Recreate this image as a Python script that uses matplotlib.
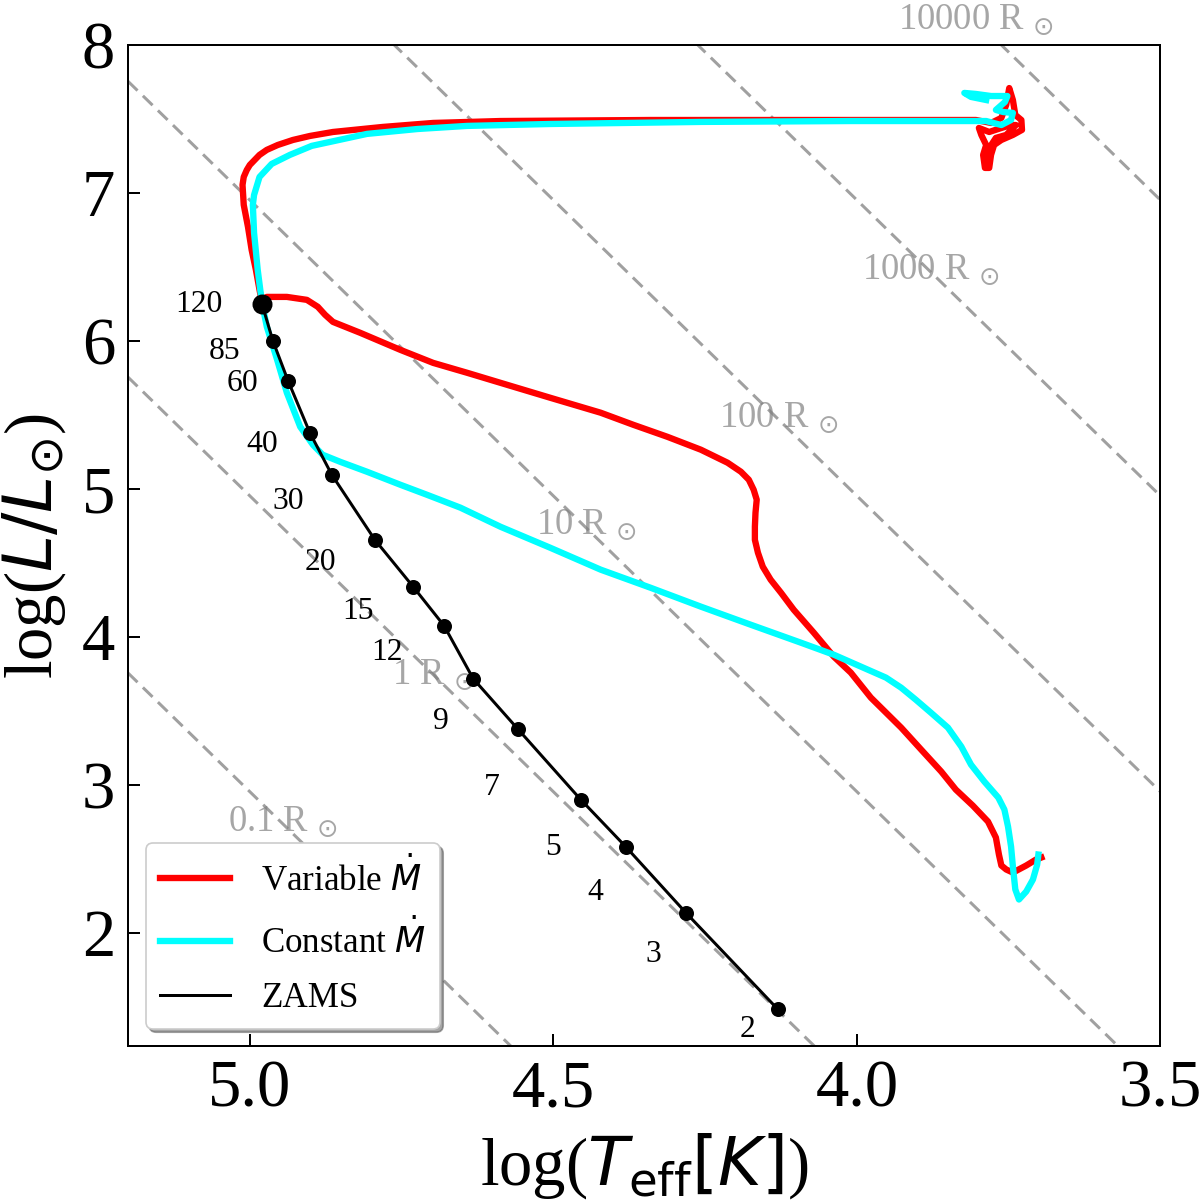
import numpy as np
import matplotlib
matplotlib.use("Agg")
import matplotlib.pyplot as plt

plt.rcParams['font.family'] = ['Liberation Serif', 'DejaVu Sans']
plt.rcParams['mathtext.fontset'] = 'dejavusans'

# ZAMS masses and positions (log Teff, log L)
zams_mass = ['120', '85', '60', '40', '30', '20', '15', '12', '9', '7', '5', '4', '3', '2']
zams_logT = [4.980, 4.962, 4.937, 4.901, 4.865, 4.794, 4.731, 4.680, 4.632, 4.559, 4.455, 4.381, 4.282, 4.130]
zams_logL = [6.250, 6.000, 5.730, 5.378, 5.095, 4.655, 4.338, 4.074, 3.716, 3.378, 2.899, 2.581, 2.135, 1.480]
# where the mass labels sit
mlab_logT = [5.083, 5.041, 5.012, 4.980, 4.937, 4.884, 4.822, 4.774, 4.686, 4.601, 4.500, 4.431, 4.335, 4.180]
mlab_logL = [6.243, 5.926, 5.709, 5.297, 4.912, 4.500, 4.169, 3.892, 3.426, 2.980, 2.574, 2.270, 1.851, 1.345]

# Variable Mdot track
var_logT = [3.696, 3.705, 3.721, 3.743, 3.754, 3.762, 3.766, 3.771, 3.784, 3.809, 3.837,
            3.861, 3.894, 3.927, 3.977, 4.010, 4.038, 4.071, 4.104, 4.125, 4.142, 4.155,
            4.163, 4.168, 4.168, 4.167, 4.165, 4.170, 4.178, 4.191, 4.213, 4.257, 4.312,
            4.368, 4.422, 4.505, 4.587, 4.642, 4.698, 4.752, 4.818, 4.863, 4.876, 4.888,
            4.906, 4.939, 4.972, 4.980, 4.984, 4.990, 4.997, 5.003, 5.010, 5.012, 5.010,
            5.005, 5.000, 4.992, 4.984, 4.972, 4.954, 4.929, 4.901, 4.863, 4.781, 4.698,
            4.587, 4.340, 4.092, 3.804, 3.779, 3.762, 3.754, 3.749, 3.743, 3.739, 3.729,
            3.728, 3.743, 3.762, 3.774, 3.779, 3.782, 3.789, 3.792, 3.787, 3.795, 3.799,
            3.782, 3.762, 3.746, 3.738, 3.754, 3.771, 3.784, 3.787]
var_logL = [2.507, 2.493, 2.453, 2.405, 2.426, 2.453, 2.527, 2.642, 2.750, 2.858, 2.966,
            3.088, 3.236, 3.385, 3.588, 3.757, 3.865, 4.027, 4.182, 4.297, 4.385, 4.473,
            4.568, 4.655, 4.743, 4.838, 4.926, 4.993, 5.061, 5.115, 5.176, 5.264, 5.351,
            5.432, 5.514, 5.615, 5.716, 5.784, 5.851, 5.939, 6.054, 6.128, 6.176, 6.230,
            6.277, 6.297, 6.297, 6.257, 6.345, 6.480, 6.615, 6.770, 6.919, 7.054, 7.108,
            7.155, 7.189, 7.223, 7.257, 7.291, 7.324, 7.358, 7.385, 7.412, 7.446, 7.473,
            7.486, 7.493, 7.493, 7.493, 7.473, 7.507, 7.595, 7.709, 7.628, 7.527, 7.493,
            7.426, 7.392, 7.358, 7.324, 7.257, 7.169, 7.169, 7.257, 7.324, 7.392, 7.439,
            7.412, 7.439, 7.459, 7.459, 7.392, 7.372, 7.291, 7.223]

# Constant Mdot track
con_logT = [3.701, 3.703, 3.710, 3.721, 3.733, 3.739, 3.743, 3.746, 3.751, 3.757, 3.767,
            3.790, 3.812, 3.828, 3.850, 3.878, 3.903, 3.927, 3.952, 3.982, 4.038, 4.092,
            4.175, 4.257, 4.340, 4.422, 4.505, 4.587, 4.653, 4.708, 4.752, 4.807, 4.851,
            4.880, 4.896, 4.917, 4.939, 4.955, 4.972, 4.980, 4.987, 4.993, 4.995, 4.993,
            4.984, 4.964, 4.934, 4.898, 4.807, 4.724, 4.642, 4.505, 4.257, 4.010, 3.787,
            3.762, 3.746, 3.743, 3.759, 3.771, 3.756, 3.752, 3.779, 3.804, 3.823, 3.812,
            3.787]
con_logL = [2.527, 2.459, 2.358, 2.277, 2.223, 2.291, 2.446, 2.581, 2.716, 2.831, 2.912,
            3.020, 3.135, 3.257, 3.385, 3.486, 3.574, 3.655, 3.723, 3.777, 3.878, 3.959,
            4.081, 4.203, 4.331, 4.453, 4.601, 4.743, 4.872, 4.959, 5.027, 5.115, 5.182,
            5.230, 5.297, 5.419, 5.649, 5.872, 6.095, 6.257, 6.480, 6.730, 6.919, 6.986,
            7.108, 7.196, 7.257, 7.318, 7.399, 7.432, 7.453, 7.466, 7.480, 7.486, 7.486,
            7.459, 7.493, 7.541, 7.547, 7.561, 7.615, 7.655, 7.655, 7.669, 7.676, 7.649,
            7.628]

# constant radius lines and where their labels go
radii = [0.1, 1, 10, 100, 1000, 10000]
rad_names = ['0.1', '1', '10', '100', '1000', '10000']
rlab_logT = [4.946, 4.698, 4.446, 4.129, 3.878, 3.804]
rlab_logL = [2.75, 3.743, 4.757, 5.48, 6.48, 8.17]
log_tsun = 3.762


def main():
    fig = plt.figure(figsize=(10, 10), dpi=120)
    ax = fig.add_axes([0.107, 0.128, 0.86, 0.8345])

    # Stefan-Boltzmann: log L = 2 log R + 4 (log T - log Tsun)
    t_line = np.array([5.3, 3.4])
    for r in radii:
        ax.plot(t_line, 2 * np.log10(r) + 4 * (t_line - log_tsun), ls='--',
                color='gray', alpha=0.75, lw=1.8, dashes=(4.5, 2.5), zorder=1)
    for name, t, l in zip(rad_names, rlab_logT, rlab_logL):
        ax.text(t, l, name + r' R $_{\odot}$', color='gray', alpha=0.7, fontsize=22,
                ha='center', va='center')

    ax.plot(var_logT, var_logL, color='red', lw=3.8, label=r'Variable $\dot{M}$',
            zorder=3, solid_joinstyle='round')
    ax.plot(con_logT, con_logL, color='cyan', lw=3.8, label=r'Constant $\dot{M}$',
            zorder=3.5, solid_joinstyle='round')
    ax.plot(zams_logT, zams_logL, color='black', lw=1.8, label='ZAMS', zorder=4)
    ax.plot(zams_logT, zams_logL, 'o', color='black', ms=8, zorder=5)
    ax.plot(zams_logT[0], zams_logL[0], 'o', color='black', ms=11, zorder=5)
    for m, t, l in zip(zams_mass, mlab_logT, mlab_logL):
        ax.text(t, l, m, fontsize=19, ha='center', va='center')

    ax.set_xlim(5.2, 3.5)
    ax.set_ylim(1.23, 8)
    ax.set_xticks([5.0, 4.5, 4.0, 3.5])
    ax.set_yticks([2, 3, 4, 5, 6, 7, 8])
    ax.tick_params(direction='in', length=7, width=1.2, labelsize=40, pad=8)
    for s in ax.spines.values():
        s.set_linewidth(1.2)

    ax.set_xlabel(r'log($T_{\rm eff}[K]$)', fontsize=40, labelpad=6)
    ax.set_ylabel(r'log($L/L_{\odot}$)', fontsize=40, labelpad=8)

    ax.legend(loc='lower left', fontsize=21, fancybox=True, shadow=True,
              handlelength=2.0, handletextpad=0.9, labelspacing=0.6)

    fig.savefig('out.png', dpi=120)


if __name__ == "__main__":
    main()
